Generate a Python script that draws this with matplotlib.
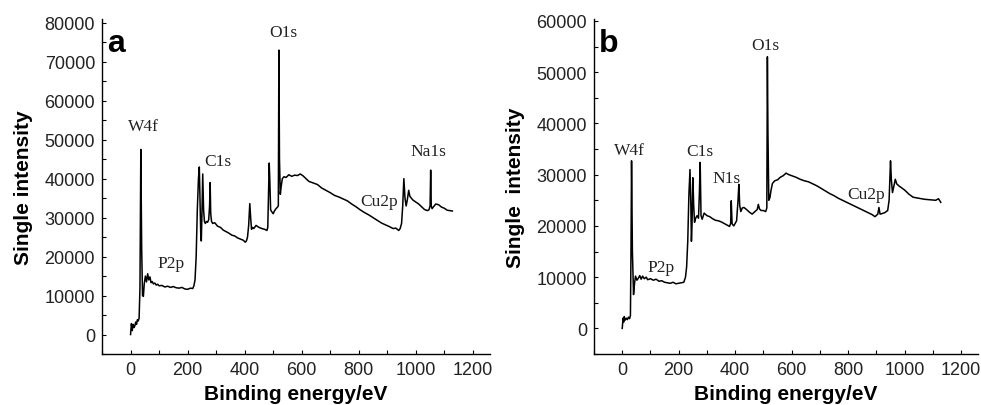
import matplotlib
matplotlib.use("Agg")
import matplotlib.pyplot as plt
from matplotlib.ticker import MultipleLocator

# ---------------- Panel a data ----------------
energy_a = [0, 3, 6, 9, 12, 15, 18, 21, 24, 27, 30, 33, 36, 39, 42, 45, 48, 52, 56, 60,
            64, 68, 72, 76, 80, 85, 90, 95, 100, 110, 120, 130, 140, 150, 160, 170, 180,
            190, 200, 210, 218, 222, 226, 230, 234, 238, 241, 244, 246, 248, 250, 253,
            256, 259, 262, 266, 270, 274, 277, 279, 281, 284, 288, 295, 305, 315, 325,
            335, 345, 355, 365, 375, 385, 395, 402, 406, 410, 414, 418, 421, 424, 428,
            432, 440, 450, 460, 470, 478, 481, 484, 486, 488, 491, 495, 500, 505, 510,
            515, 518, 520, 522, 525, 528, 532, 538, 545, 555, 565, 575, 585, 595, 605,
            615, 625, 640, 655, 670, 685, 700, 715, 730, 745, 760, 775, 790, 805, 820,
            835, 850, 865, 880, 895, 910, 920, 930, 940, 945, 950, 954, 958, 962, 966,
            970, 975, 979, 984, 990, 1000, 1010, 1020, 1030, 1040, 1046, 1050, 1052,
            1054, 1057, 1062, 1070, 1080, 1090, 1100, 1110, 1120, 1128]
intensity_a = [0, 2800, 1000, 2600, 1800, 2200, 3200, 2600, 3800, 3500, 4200, 12000, 47500,
               22000, 10000, 9800, 13000, 15000, 13500, 15600, 14000, 14800, 13300, 13600,
               13000, 13200, 12700, 12900, 12500, 12600, 12200, 12400, 12100, 12300, 12000,
               11900, 12100, 11700, 11600, 11900, 11800, 12500, 14000, 20000, 32000, 40000,
               43000, 33000, 26000, 24000, 30000, 41200, 32000, 29000, 28500, 29000, 28800,
               29500, 33000, 39000, 31000, 29000, 28500, 28700, 27800, 27500, 26800, 26400,
               26000, 25500, 25300, 24800, 24500, 24200, 23700, 24000, 25000, 28000, 33600,
               30000, 27000, 27500, 27200, 28000, 27500, 27200, 27000, 26700, 27500, 37000,
               44000, 40000, 32000, 31500, 31000, 31800, 32300, 32700, 33000, 73000, 45000,
               36000, 38000, 40000, 40500, 40300, 41000, 40600, 40900, 40800, 41200, 40700,
               40000, 39300, 38900, 38500, 37600, 37000, 36400, 35700, 35300, 34800, 34300,
               33500, 32800, 32000, 31300, 30700, 30000, 29300, 28600, 28100, 27600, 27200,
               27300, 26700, 27200, 28500, 33000, 40000, 35000, 33000, 34500, 37000, 35500,
               35000, 34500, 34000, 33500, 32800, 32100, 31800, 32000, 33000, 42200, 33000,
               32300, 32800, 33500, 33300, 32700, 32400, 31900, 31800, 31700]

# ---------------- Panel b data ----------------
energy_b = [0, 3, 5, 7, 10, 14, 18, 22, 26, 29, 31, 33, 36, 40, 44, 47, 52, 57, 62, 67, 72,
            78, 85, 90, 100, 110, 120, 130, 140, 150, 160, 170, 180, 190, 200, 210, 218,
            224, 228, 232, 236, 240, 243, 245, 247, 250, 253, 256, 260, 265, 270, 273, 276,
            279, 283, 290, 300, 310, 320, 330, 340, 350, 360, 370, 380, 384, 386, 389, 395,
            400, 405, 410, 413, 416, 420, 425, 431, 440, 450, 460, 470, 478, 482, 486, 492,
            500, 508, 512, 514, 516, 519, 523, 527, 532, 540, 550, 560, 570, 580, 590, 600,
            615, 630, 645, 660, 675, 690, 705, 720, 735, 750, 765, 780, 795, 810, 825, 840,
            855, 870, 885, 895, 905, 909, 913, 920, 930, 940, 945, 948, 950, 953, 957, 961,
            967, 972, 980, 990, 1000, 1015, 1030, 1050, 1070, 1090, 1110, 1120, 1128]
intensity_b = [0, 2000, 1200, 2300, 1600, 2000, 1700, 2200, 1900, 2500, 15000, 32700, 15000,
               6600, 9000, 10200, 9400, 9800, 10300, 9600, 10200, 9700, 10000, 9500, 9700,
               9400, 9600, 9200, 9300, 9000, 8900, 8800, 9000, 8700, 8800, 8900, 9000, 10000,
               12000, 17000, 26000, 31000, 24000, 17000, 20000, 29400, 24000, 20700, 21500,
               22000, 21500, 26000, 32400, 22000, 21300, 22500, 22000, 21800, 21400, 21100,
               21000, 20800, 20500, 20200, 19900, 20500, 24900, 20400, 20000, 20500, 21000,
               25000, 28100, 24000, 22800, 23500, 23600, 23200, 22700, 22300, 22800, 23200,
               24200, 23300, 23000, 23000, 22800, 23500, 53000, 38000, 25000, 25500, 27000,
               28300, 28800, 29000, 29500, 29800, 30300, 30000, 29800, 29500, 29100, 28800,
               28600, 28200, 27800, 27300, 26800, 26300, 25900, 25400, 25000, 24600, 24200,
               23800, 23400, 23000, 22600, 22200, 21800, 22300, 23600, 22300, 22400, 22600,
               23000, 25000, 30000, 32700, 29000, 26500, 27500, 29100, 28200, 27800, 27400,
               27000, 26200, 25600, 25400, 25200, 25100, 25000, 25300, 24600]

labels_a = ["W4f", "P2p", "C1s", "O1s", "Cu2p", "Na1s"]
label_x_a = [44, 142, 305, 534, 871, 1044]
label_y_a = [52400, 17350, 43400, 76700, 33300, 46000]

labels_b = ["W4f", "P2p", "C1s", "N1s", "O1s", "Cu2p"]
label_x_b = [26, 137, 276, 370, 507, 865]
label_y_b = [34000, 11200, 33800, 28600, 54500, 25500]

x_ticks = [0, 200, 400, 600, 800, 1000, 1200]

fig = plt.figure(figsize=(9.81, 4.06), dpi=100)
ax_a = fig.add_axes([0.104, 0.1256, 0.3955, 0.8254])
ax_b = fig.add_axes([0.6055, 0.1256, 0.3915, 0.8254])

serif = ["Liberation Serif", "DejaVu Serif"]
sans = ["Liberation Sans", "DejaVu Sans"]

panels = [
    (ax_a, energy_a, intensity_a, labels_a, label_x_a, label_y_a, (-5000, 81000),
     list(range(0, 80001, 10000)), "a", "Single intensity"),
    (ax_b, energy_b, intensity_b, labels_b, label_x_b, label_y_b, (-5000, 60400),
     list(range(0, 60001, 10000)), "b", "Single  intensity"),
]

for ax, ex, iy, labs, lx, ly, ylim, yticks, letter, ylabel in panels:
    ax.plot(ex, iy, color="black", lw=1.1)
    ax.set_xlim(-100, 1260)
    ax.set_ylim(*ylim)
    ax.set_xticks(x_ticks)
    ax.set_yticks(yticks)
    ax.xaxis.set_minor_locator(MultipleLocator(100))
    ax.yaxis.set_minor_locator(MultipleLocator(5000))
    ax.tick_params(axis="both", which="both", direction="in", length=3, width=0.8,
                   labelsize=13, pad=5)
    for t in ax.get_xticklabels() + ax.get_yticklabels():
        t.set_family(sans)
        t.set_color("#222222")
    ax.spines["top"].set_visible(False)
    ax.spines["right"].set_visible(False)
    for s in ("left", "bottom"):
        ax.spines[s].set_linewidth(1.0)
    ax.set_xlabel("Binding energy/eV", fontsize=15, fontweight="bold", family=sans,
                  labelpad=4)
    ax.set_ylabel(ylabel, fontsize=15, fontweight="bold", family=sans, labelpad=8)
    for t, x, y in zip(labs, lx, ly):
        ax.text(x, y, t, family=serif, fontsize=12.5, ha="center", va="baseline",
                color="#222222")
    ax.text(0.012, 0.905, letter, transform=ax.transAxes, fontsize=23,
            fontweight="bold", family=sans, va="baseline", ha="left")

fig.savefig("out.png", dpi=100)
